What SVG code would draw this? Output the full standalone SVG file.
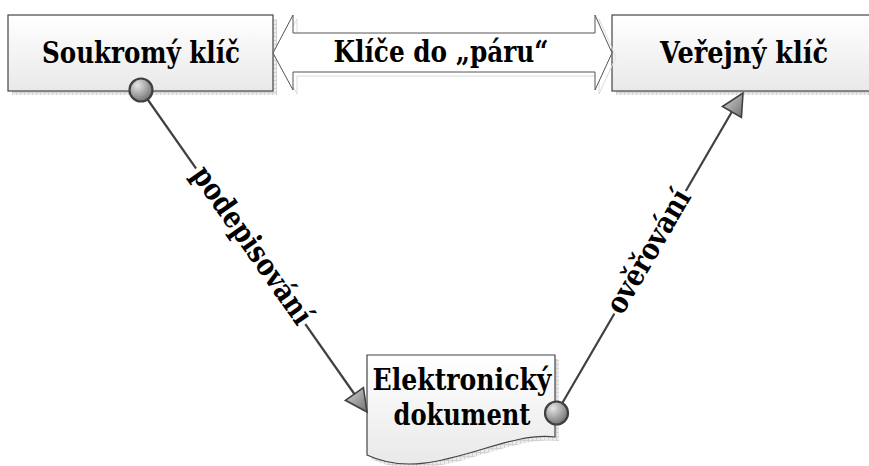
<svg xmlns="http://www.w3.org/2000/svg" width="869" height="466" viewBox="0 0 869 466">
  <defs>
    <linearGradient id="boxFill" x1="0" y1="0" x2="0" y2="1">
      <stop offset="0" stop-color="#ffffff"/>
      <stop offset="1" stop-color="#e9e9e9"/>
    </linearGradient>
    <radialGradient id="knob" cx="0.35" cy="0.3" r="0.75">
      <stop offset="0" stop-color="#e6e6e6"/>
      <stop offset="1" stop-color="#6e6e6e"/>
    </radialGradient>
    <linearGradient id="head" x1="0" y1="0" x2="1" y2="1">
      <stop offset="0" stop-color="#d8d8d8"/>
      <stop offset="1" stop-color="#707070"/>
    </linearGradient>
    <pattern id="shadowGrid" width="4" height="4" patternUnits="userSpaceOnUse">
      <rect width="4" height="4" fill="#ececec"/>
      <path d="M0.5,0 V4 M0,0.5 H4" stroke="#d2d2d2" stroke-width="1"/>
    </pattern>
  </defs>
  <style>
    .shadow { fill: url(#shadowGrid); stroke: none; }
    .box { fill: url(#boxFill); stroke: #444444; stroke-width: 1.2; }
    .label { font-family: "DejaVu Serif", "Liberation Serif", serif; font-weight: bold; font-size: 30px; fill: #000000; text-anchor: middle; }
    .wire { stroke: #404040; stroke-width: 2.2; fill: none; }
    .knob { fill: url(#knob); stroke: #404040; stroke-width: 2.2; }
    .head { fill: url(#head); stroke: #404040; stroke-width: 1.6; stroke-linejoin: miter; }
    .pair { fill: #ffffff; stroke: #555555; stroke-width: 1; }
    .pairShadow { fill: none; stroke: #dcdcdc; stroke-width: 1; }
  </style>

  <rect width="869" height="466" fill="#ffffff"/>

  <!-- Private key -->
  <g id="private-key">
    <rect class="shadow" x="12" y="19" width="265" height="76"/>
    <rect class="box" x="8" y="15" width="265" height="76"/>
    <text class="label" x="141" y="63" textLength="198" lengthAdjust="spacingAndGlyphs">Soukromý klíč</text>
  </g>

  <!-- Public key -->
  <g id="public-key">
    <rect class="shadow" x="616" y="19" width="265" height="76"/>
    <rect class="box" x="612" y="15" width="265" height="76"/>
    <text class="label" x="744" y="63" textLength="168" lengthAdjust="spacingAndGlyphs">Veřejný klíč</text>
  </g>

  <!-- Key pair double arrow -->
  <g id="key-pair">
    <path class="pairShadow" d="M277,57 L297,19 L297,37 L599,37 L599,19 L616,57 L599,94 L599,76 L297,76 L297,94 Z"/>
    <path class="pair" d="M273,53 L293,15 L293,33 L595,33 L595,15 L612,53 L595,90 L595,72 L293,72 L293,90 Z"/>
    <text class="label" x="441" y="62" textLength="215" lengthAdjust="spacingAndGlyphs">Klíče do „páru“</text>
  </g>

  <!-- Electronic document -->
  <g id="document">
    <path class="shadow" d="M371,359 L559,359 L559,441 C504,434 434,489 371,459 Z"/>
    <path class="box" d="M367,355 L555,355 L555,437 C500,430 430,485 367,455 Z"/>
    <text class="label" x="462" y="390" textLength="179" lengthAdjust="spacingAndGlyphs">Elektronický</text>
    <text class="label" x="462" y="425" textLength="137" lengthAdjust="spacingAndGlyphs">dokument</text>
  </g>

  <!-- Connectors -->
  <g id="connectors">
    <!-- signing: private key to document -->
    <line class="wire" x1="141" y1="90" x2="360" y2="402"/>
    <polygon class="head" points="367,412 345.4,400.3 363.4,387.7"/>
    <circle class="knob" cx="141" cy="90" r="11.5"/>
    <g transform="translate(250.7,246.3) rotate(54.94)">
      <rect x="-95" y="-9" width="190" height="18" fill="#ffffff"/>
      <text class="label" x="0" y="8" textLength="186" lengthAdjust="spacingAndGlyphs">podepisování</text>
    </g>

    <!-- verification: document to public key -->
    <line class="wire" x1="556.5" y1="413" x2="737" y2="103"/>
    <polygon class="head" points="743,93 741.4,117.5 722.4,106.5"/>
    <circle class="knob" cx="556.5" cy="413" r="11.5"/>
    <g transform="translate(650.1,252.3) rotate(-59.77)">
      <rect x="-71" y="-9" width="142" height="18" fill="#ffffff"/>
      <text class="label" x="0" y="8" textLength="138" lengthAdjust="spacingAndGlyphs">ověřování</text>
    </g>
  </g>
</svg>
